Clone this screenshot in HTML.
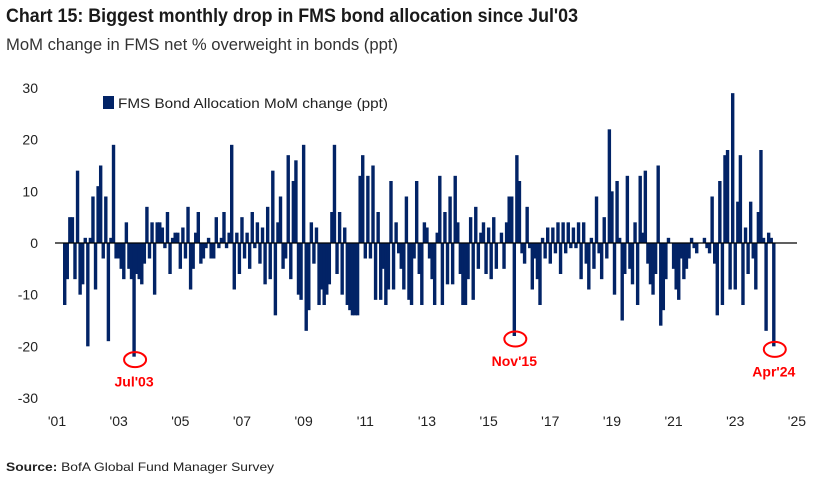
<!DOCTYPE html>
<html><head><meta charset="utf-8"><style>
body{margin:0;background:#fff;}
svg{display:block;font-family:"Liberation Sans",sans-serif;}
</style></head><body>
<svg id="chart" width="820" height="484">
<text x="6" y="22" font-weight="bold" font-size="19" fill="#1a1a1a" textLength="572" lengthAdjust="spacingAndGlyphs">Chart 15: Biggest monthly drop in FMS bond allocation since Jul'03</text>
<text x="6" y="50" font-size="17" fill="#333" textLength="392" lengthAdjust="spacingAndGlyphs">MoM change in FMS net % overweight in bonds (ppt)</text>
<g id="yaxis"></g>
<g id="xaxis"></g>
<g id="bars"></g>
<line x1="55" x2="797" id="zero" stroke="#000" stroke-width="1.2"/>
<rect x="103" y="96" width="11" height="13" fill="#022366"/>
<text x="118" y="108" font-size="14" fill="#222" textLength="270" lengthAdjust="spacingAndGlyphs">FMS Bond Allocation MoM change (ppt)</text>
<g id="ann"></g>
<text x="6" y="471" font-size="12" fill="#222" textLength="268" lengthAdjust="spacingAndGlyphs"><tspan font-weight="bold">Source:</tspan> BofA Global Fund Manager Survey</text>
</svg>
<script>
const startYear = 2001, startMonth = 4;
const values = [
-12,-7,5,5,-7,14,-10,-8,1,
-20,1,9,-9,11,15,-3,9,-19,1,19,-3,
-3,-5,-7,4,-5,-7,-22,-6,-7,-8,-4,7,
-3,4,-10,4,4,3,-1,6,-6,1,2,2,
-5,3,-3,7,-9,-5,2,6,-4,-3,-1,1,
-3,-3,5,-1,1,6,-1,2,19,-9,2,-6,
5,-3,2,-5,6,-1,4,-4,3,-8,7,-7,
14,-14,4,9,-5,-3,17,-7,12,16,-10,-11,
19,-17,-13,4,-4,3,-12,-9,-12,-10,-8,6,
19,-6,6,-10,3,-12,-13,-14,-14,-14,13,17,
-3,13,-3,15,-11,6,-11,-5,-12,-9,12,-9,
4,-2,-5,-9,9,-11,-12,-3,12,-6,-12,4,
3,-3,-7,-12,2,13,-12,6,-8,9,-8,13,
4,-6,-12,-12,-7,5,-11,7,-5,2,4,-6,
3,-7,5,-5,0,2,-5,4,9,9,-18,17,
12,-2,-4,7,-1,-9,-3,-7,-12,1,-3,3,
-4,3,-2,4,-6,4,-2,4,-1,3,-1,4,
-7,4,-4,-9,1,-5,9,-2,-7,5,-3,22,
10,-10,12,1,-15,-6,13,-5,-8,4,-12,13,
2,14,-4,-8,-10,-6,15,-16,-13,-7,1,0,
-5,-9,-11,-3,-7,-5,-3,1,-1,-2,0,0,
1,-1,-2,9,-4,-14,12,-12,17,18,-9,29,
-9,8,17,-12,3,-6,8,-3,-9,6,18,1,
-17,2,1,-20];
const yTicks = [30,20,10,0,-10,-20,-30];
const xTickYears = [2001,2003,2005,2007,2009,2011,2013,2015,2017,2019,2021,2023,2025];
const annotations = [{label:"Jul'03",y:2003,m:7},{label:"Nov'15",y:2015,m:11},{label:"Apr'24",y:2024,m:4}];

const NS="http://www.w3.org/2000/svg";
const yScale=v=>243-v*5.167;
const xScale=t=>57+(t-2001)*30.83;
const tOf=(y,m)=>y+(m-1)/12;
function mk(tag,attrs,parent){const e=document.createElementNS(NS,tag);for(const k in attrs)e.setAttribute(k,attrs[k]);parent.appendChild(e);return e;}
const zl=document.getElementById('zero');zl.setAttribute('y1',yScale(0));zl.setAttribute('y2',yScale(0));
const ya=document.getElementById('yaxis');
yTicks.forEach(v=>{const t=mk('text',{x:38,y:yScale(v)+5,'text-anchor':'end','font-size':14,fill:'#222'},ya);t.textContent=v;

});
const xa=document.getElementById('xaxis');
xTickYears.forEach(y=>{const t=mk('text',{x:xScale(y),y:426,'text-anchor':'middle','font-size':14,fill:'#222'},xa);t.textContent="'"+String(y%100).padStart(2,'0');

});
const bg=document.getElementById('bars');
values.forEach((v,i)=>{const mi=startMonth-1+i;const t=startYear+mi/12;const x=xScale(t);const y0=yScale(0),y1=yScale(v);
const r=mk('rect',{x:x-1.7,y:Math.min(y0,y1),width:3.4,height:Math.abs(y1-y0),fill:'#022366'},bg);

});
const an=document.getElementById('ann');
annotations.forEach(a=>{const i=(a.y-startYear)*12+(a.m-startMonth);const v=values[i];const cx=xScale(tOf(a.y,a.m));const cy=yScale(v)+3;
const c=mk('ellipse',{cx:cx+1,cy:cy,rx:11,ry:7.5,fill:'none',stroke:'#f00','stroke-width':2},an);


const t=mk('text',{x:cx,y:cy+27,'text-anchor':'middle','font-size':14,'font-weight':'bold',fill:'#f00'},an);t.textContent=a.label;

});
</script>
</body></html>
